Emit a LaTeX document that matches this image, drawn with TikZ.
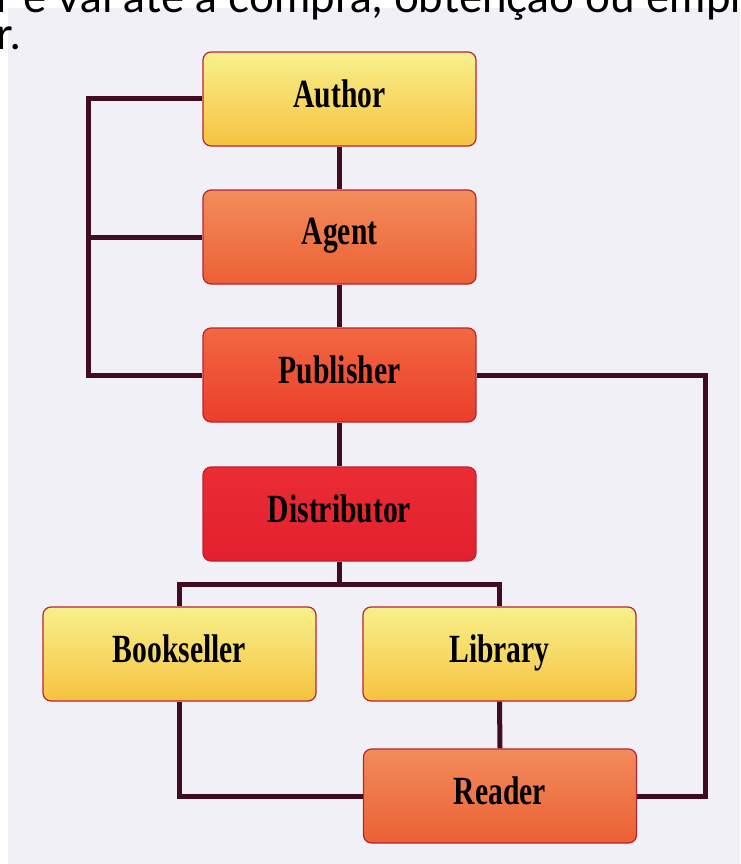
\documentclass[tikz,border=0pt]{standalone}
\usepackage{fontspec}
\newfontfamily\boxfont[FakeStretch=0.74]{Liberation Serif}
\newfontfamily\topfont{Lato}
\definecolor{bgcol}{RGB}{240,240,246}
\definecolor{linecol}{RGB}{66,12,32}
\definecolor{boxborder}{RGB}{185,35,50}
\definecolor{yelTop}{RGB}{248,240,140}
\definecolor{yelBot}{RGB}{246,194,64}
\definecolor{orTop}{RGB}{242,140,92}
\definecolor{orBot}{RGB}{236,96,52}
\definecolor{puTop}{RGB}{242,104,64}
\definecolor{puBot}{RGB}{234,62,44}
\definecolor{diTop}{RGB}{234,44,52}
\definecolor{diBot}{RGB}{226,32,46}
\tikzset{
  box/.style={draw=boxborder, line width=1.2pt, rounded corners=8pt,
    minimum width=273pt, minimum height=94pt, inner sep=0pt,
    font=\boxfont\bfseries\fontsize{40}{40}\selectfont},
  yelbox/.style={box, top color=yelTop, bottom color=yelBot},
  orbox/.style={box, top color=orTop, bottom color=orBot},
  pubox/.style={box, top color=puTop, bottom color=puBot},
  dibox/.style={box, top color=diTop, bottom color=diBot},
  conn/.style={draw=linecol, line width=5pt},
  toptext/.style={anchor=base west, inner sep=0pt, text=black,
    font=\topfont\fontsize{44}{44}\selectfont}
}
\newcommand{\lbl}[1]{\raisebox{11pt}{#1}}
\begin{document}
\begin{tikzpicture}[x=1pt,y=-1pt]
\useasboundingbox (0,0) rectangle (740,864);
\clip (0,0) rectangle (740,864);
\fill[white] (0,0) rectangle (740,864);
\fill[bgcol] (8,8) rectangle (740,864);
\node[toptext] (t1) at (-4,13) {r e vai até a compra, obtenção ou empr};
\node[toptext] (t2) at (-4,50) {r.};

\node[yelbox] (author) at (339.5,99) {\lbl{Author}};
\node[orbox] (agent) at (339.5,237) {\lbl{Agent}};
\node[pubox] (pub) at (339.5,375) {\lbl{Publisher}};
\node[dibox] (dist) at (339.5,514) {\lbl{Distributor}};
\node[yelbox] (book) at (179.5,654) {\lbl{Bookseller}};
\node[yelbox] (lib) at (499.5,654) {\lbl{Library}};
\node[orbox] (reader) at (500,796) {\lbl{Reader}};

\coordinate (L) at (88,0);
\coordinate (R) at (705,0);
\coordinate (J) at (339.5,584);

\draw[conn] (author) -- (agent);
\draw[conn] (agent) -- (pub);
\draw[conn] (pub) -- (dist);
\draw[conn] (author.west) -- (author.west -| L) -- (pub.west -| L) -- (pub.west);
\draw[conn] (agent.west) -- (agent.west -| L);
\draw[conn] (pub.east) -- (pub.east -| R) -- (reader.east -| R) -- (reader.east);
\draw[conn] (dist.south) -- (J);
\draw[conn] (book.north) |- (J) -| (lib.north);
\draw[conn] (book.south) |- (reader.west);
\draw[conn] (lib.south) -- (reader.north);
\end{tikzpicture}
\end{document}
